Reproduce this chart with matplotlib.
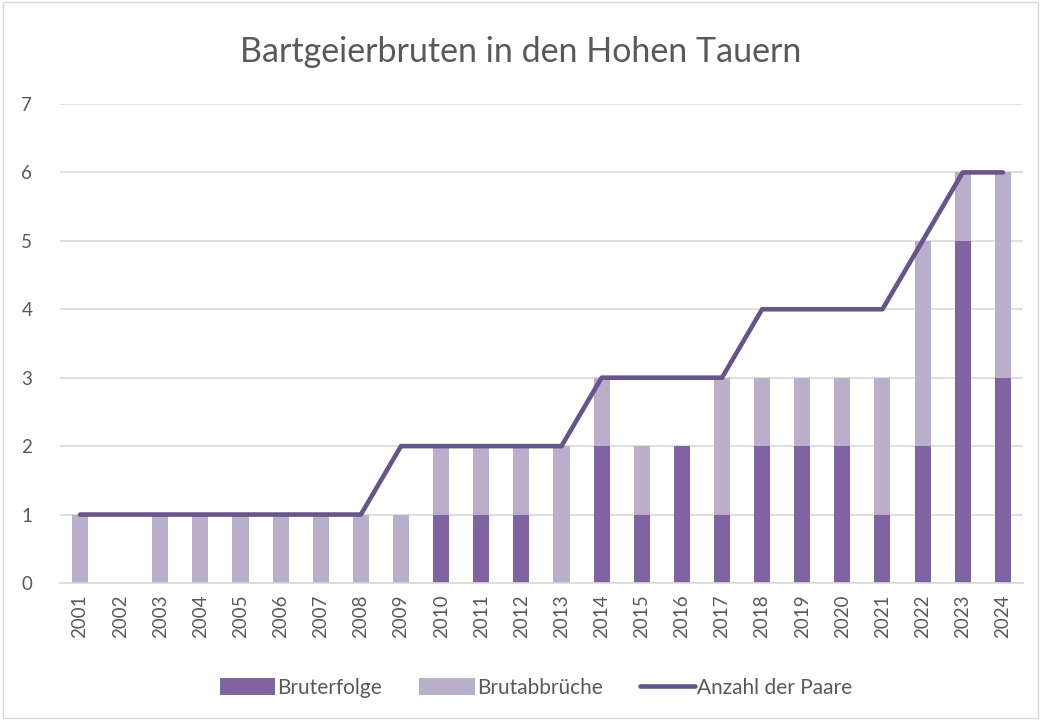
import matplotlib.pyplot as plt
from matplotlib.patches import Rectangle

plt.rcParams['font.family'] = ['Lato', 'DejaVu Sans']

years = [str(y) for y in range(2001, 2025)]
bruterfolge = [0, 0, 0, 0, 0, 0, 0, 0, 0, 1, 1, 1, 0, 2, 1, 2, 1, 2, 2, 2, 1, 2, 5, 3]
brutabbrueche = [1, 0, 1, 1, 1, 1, 1, 1, 1, 1, 1, 1, 2, 1, 1, 0, 2, 1, 1, 1, 2, 3, 1, 3]
paare = [1, 1, 1, 1, 1, 1, 1, 1, 2, 2, 2, 2, 2, 3, 3, 3, 3, 4, 4, 4, 4, 5, 6, 6]

dark = '#8064A2'
light = '#B9AFCB'
line_c = '#67548A'
txt = '#595959'

fig = plt.figure(figsize=(10.41, 7.2), dpi=100)
fig.patches.append(Rectangle((0.003, 0.003), 0.994, 0.994, transform=fig.transFigure,
                             fill=False, edgecolor='#D9D9D9', linewidth=1))
ax = fig.add_axes([0.0576, 0.1903, 0.925, 0.6653])

x = range(len(years))
b1 = ax.bar(x, bruterfolge, width=0.4, color=dark, label='Bruterfolge', zorder=2)
b2 = ax.bar(x, brutabbrueche, width=0.4, bottom=bruterfolge, color=light,
            label='Brutabbrüche', zorder=2)
ln, = ax.plot(x, paare, color=line_c, linewidth=3.3, solid_capstyle='round',
              solid_joinstyle='round', label='Anzahl der Paare', zorder=3)

ax.set_xlim(-0.5, len(years) - 0.5)
ax.set_ylim(0, 7)
ax.set_yticks(range(8))
ax.set_xticks(list(x))
ax.set_xticklabels(years, rotation=90)
ax.tick_params(axis='both', length=0, colors=txt, labelsize=13.5)
ax.tick_params(axis='y', pad=20)
ax.tick_params(axis='x', pad=8)
ax.grid(axis='y', color='#D9D9D9', linewidth=1.2, zorder=0)
for s in ['top', 'right', 'left']:
    ax.spines[s].set_visible(False)
ax.spines['bottom'].set_color('#D9D9D9')
ax.spines['bottom'].set_linewidth(1.2)

fig.suptitle('Bartgeierbruten in den Hohen Tauern', y=0.95, fontsize=24.5, color=txt)

leg = fig.legend([b1, b2, ln], ['Bruterfolge', 'Brutabbrüche', 'Anzahl der Paare'],
                 loc='center', bbox_to_anchor=(0.515, 0.045), ncol=3, frameon=False,
                 fontsize=15, handlelength=2.65, handleheight=0.9, handletextpad=0.1,
                 columnspacing=1.8)
for t in leg.get_texts():
    t.set_color(txt)

plt.savefig('out.png', dpi=100)
